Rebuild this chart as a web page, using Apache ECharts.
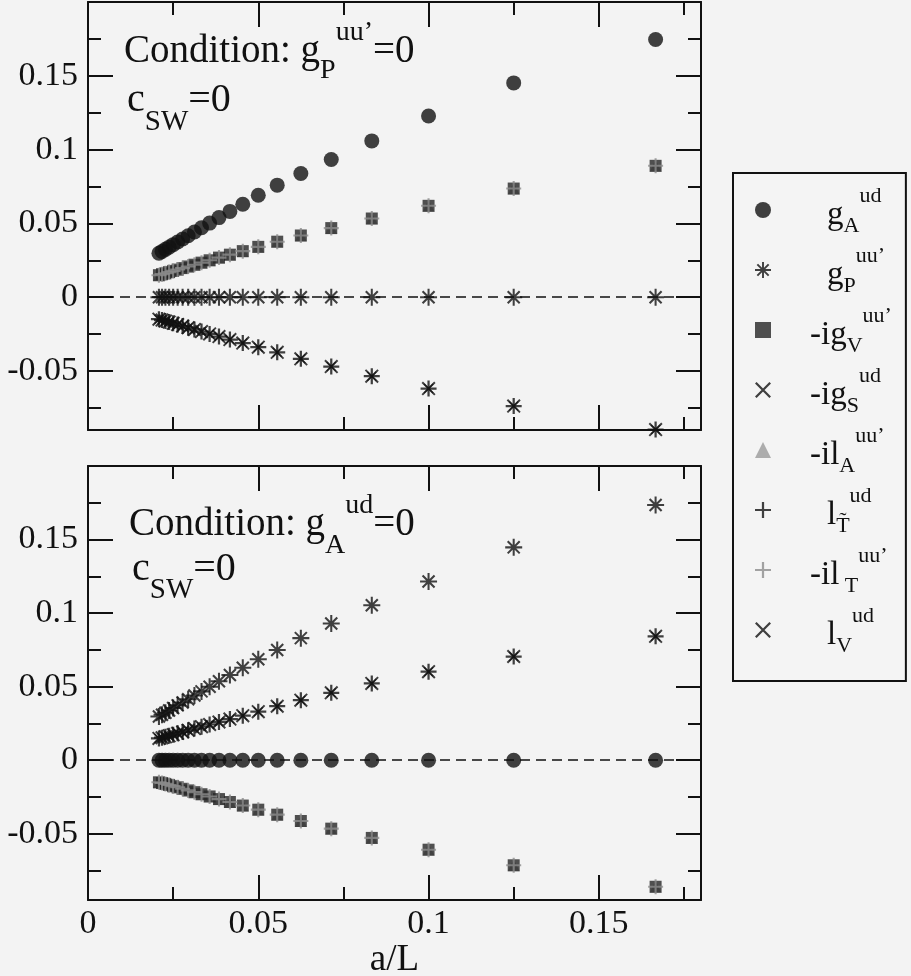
<!DOCTYPE html>
<html>
<head>
<meta charset="utf-8">
<script src="https://cdn.jsdelivr.net/npm/echarts@6/dist/echarts.min.js"></script>
<style>
html, body { margin: 0; padding: 0; background: #f3f3f3; }
#chart { width: 911px; height: 976px; }
</style>
</head>
<body>
<div id="chart"></div>
<script>
// a/L for L = 6, 8, ..., 48
var aL = [0.16667, 0.125, 0.1, 0.08333, 0.07143, 0.0625, 0.05556, 0.05, 0.04545, 0.04167, 0.03846,
	0.03571, 0.03333, 0.03125, 0.02941, 0.02778, 0.02632, 0.025, 0.02381, 0.02273, 0.02174, 0.02083];

// upper panel, condition g_P^uu' = 0
var top_gA = [0.1746, 0.1452, 0.1228, 0.1059, 0.0933, 0.0838, 0.0759, 0.0691, 0.0630, 0.0581, 0.0539,
	0.0502, 0.0470, 0.0442, 0.0416, 0.0394, 0.0374, 0.0356, 0.0339, 0.0324, 0.0310, 0.0298];
var top_zero = [0, 0, 0, 0, 0, 0, 0, 0, 0, 0, 0, 0, 0, 0, 0, 0, 0, 0, 0, 0, 0, 0];
var top_pos = [0.0890, 0.0736, 0.0619, 0.0533, 0.0468, 0.0418, 0.0376, 0.0341, 0.0312, 0.0288, 0.0268,
	0.0250, 0.0234, 0.0220, 0.0208, 0.0197, 0.0187, 0.0178, 0.0170, 0.0162, 0.0156, 0.0149];
var top_neg = [-0.0897, -0.0738, -0.0619, -0.0535, -0.0470, -0.0418, -0.0374, -0.0339, -0.0311, -0.0287, -0.0267,
	-0.0249, -0.0233, -0.0219, -0.0207, -0.0196, -0.0186, -0.0177, -0.0169, -0.0162, -0.0155, -0.0149];

// lower panel, condition g_A^ud = 0
var bot_zero = [0, 0, 0, 0, 0, 0, 0, 0, 0, 0, 0, 0, 0, 0, 0, 0, 0, 0, 0, 0, 0, 0];
var bot_gP = [0.1735, 0.1447, 0.1215, 0.1054, 0.0930, 0.0830, 0.0750, 0.0686, 0.0628, 0.0579, 0.0537,
	0.0500, 0.0468, 0.0440, 0.0415, 0.0393, 0.0373, 0.0355, 0.0338, 0.0323, 0.0309, 0.0297];
var bot_neg = [-0.0860, -0.0714, -0.0608, -0.0528, -0.0465, -0.0413, -0.0370, -0.0336, -0.0308, -0.0284, -0.0264,
	-0.0246, -0.0231, -0.0217, -0.0205, -0.0194, -0.0184, -0.0176, -0.0168, -0.0161, -0.0155, -0.0150];
var bot_pos = [0.0842, 0.0705, 0.0602, 0.0522, 0.0458, 0.0408, 0.0367, 0.0330, 0.0303, 0.0280, 0.0260,
	0.0243, 0.0228, 0.0215, 0.0203, 0.0192, 0.0183, 0.0174, 0.0166, 0.0159, 0.0153, 0.0148];

// legend labels: base, subscript, superscript
var names = ['g_A^ud', "g_P^uu'", "-ig_V^uu'", '-ig_S^ud', "-il_A^uu'", 'l_T~^ud', "-il_T^uu'", 'l_V^ud'];
var legBase = ['g', 'g', '-ig', '-ig', '-il', 'l', '-il', 'l'];
var legSub = ['A', 'P', 'V', 'S', 'A', 'T\u0303', ' T', 'V'];
var legSup = ['ud', 'uu\u2019', 'uu\u2019', 'ud', 'uu\u2019', 'ud', 'uu\u2019', 'ud'];

// series values per panel, same order as names
var panels = [
	[top_gA, top_zero, top_pos, top_neg, top_pos, top_neg, top_pos, top_neg],
	[bot_zero, bot_gP, bot_neg, bot_pos, bot_neg, bot_pos, bot_neg, bot_pos]
];

var FONT = 'Liberation Serif';
var STAR = 'path://M-0.6,-5L0.6,-5L0.6,5L-0.6,5Z M-5,-0.6L5,-0.6L5,0.6L-5,0.6Z M-3.96,-3.1L-3.1,-3.96L3.96,3.1L3.1,3.96Z M3.1,-3.96L3.96,-3.1L-3.1,3.96L-3.96,3.1Z';
var PLUS = 'path://M-0.7,-5L0.7,-5L0.7,-0.7L5,-0.7L5,0.7L0.7,0.7L0.7,5L-0.7,5L-0.7,0.7L-5,0.7L-5,-0.7L-0.7,-0.7Z';
var CROSS = 'path://M-5,-4L-4,-5L5,4L4,5Z M4,-5L5,-4L-4,5L-5,4Z';

var marks = [
	{ symbol: 'circle', size: 15, color: '#111', z: 3 },
	{ symbol: STAR, size: 17, color: '#111', z: 4 },
	{ symbol: 'rect', size: 12, color: '#262626', z: 3 },
	{ symbol: CROSS, size: 14, color: '#111', z: 4 },
	{ symbol: 'triangle', size: 12, color: '#9a9a9a', z: 2 },
	{ symbol: PLUS, size: 16, color: '#111', z: 4 },
	{ symbol: PLUS, size: 15, color: '#8c8c8c', z: 5 },
	{ symbol: CROSS, size: 10, color: '#111', z: 4 }
];

var series = [];
for (var p = 0; p < 2; p++) {
	for (var k = 0; k < names.length; k++) {
		var vals = panels[p][k];
		var s = {
			type: 'scatter',
			name: names[k],
			xAxisIndex: p * 2,
			yAxisIndex: p * 2,
			symbol: marks[k].symbol,
			symbolSize: marks[k].size,
			itemStyle: { color: marks[k].color },
			z: marks[k].z,
			silent: true,
			data: aL.map(function (x, i) { return [x, vals[i]]; })
		};
		if (k == 0) {
			s.markLine = {
				silent: true,
				symbol: 'none',
				label: { show: false },
				lineStyle: { color: '#111', width: 1.6, type: [10, 6] },
				data: [{ yAxis: 0 }]
			};
		}
		series.push(s);
	}
}

function fmt(v) {
	var r = Math.round(v / 0.05);
	if (Math.abs(v - r * 0.05) > 1e-6 || v > 0.16) return '';
	return String(+(r * 0.05).toFixed(2));
}

var tickStyle = { color: '#111', width: 2 };
function xAx(grid, pos, labels) {
	return {
		type: 'value', gridIndex: grid, position: pos,
		min: 0, max: 0.18, interval: 0.05,
		axisLine: { onZero: false, lineStyle: tickStyle },
		axisTick: { inside: true, length: 25, lineStyle: tickStyle },
		minorTick: { show: true, splitNumber: 2, length: 13, lineStyle: tickStyle },
		splitLine: { show: false },
		axisLabel: { show: labels, formatter: fmt, fontFamily: FONT, fontSize: 34, color: '#111', margin: 7 },
		name: labels ? 'a/L' : '',
		nameLocation: 'middle',
		nameGap: 39,
		nameTextStyle: { fontFamily: FONT, fontSize: 37, color: '#111' }
	};
}
function yAx(grid, pos, labels, ymin) {
	return {
		type: 'value', gridIndex: grid, position: pos,
		min: ymin, max: 0.2,
		axisLine: { onZero: false, lineStyle: tickStyle },
		axisTick: { inside: true, length: 25, lineStyle: tickStyle },
		minorTick: { show: true, splitNumber: 2, length: 13, lineStyle: tickStyle },
		splitLine: { show: false },
		axisLabel: { show: labels, formatter: fmt, fontFamily: FONT, fontSize: 34, color: '#111', margin: 10 }
	};
}

function condRich(mainSize, smallSize, subH, supH) {
	return {
		m: { fontFamily: FONT, fontSize: mainSize, fontWeight: 'normal', color: '#111', lineHeight: 60 },
		s: { fontFamily: FONT, fontSize: smallSize, fontWeight: 'normal', color: '#111', height: subH, lineHeight: 10, verticalAlign: 'bottom' },
		p: { fontFamily: FONT, fontSize: smallSize, fontWeight: 'normal', color: '#111', height: supH, lineHeight: 10, verticalAlign: 'top' }
	};
}

var myChart = echarts.init(document.getElementById('chart'));
var option = {
	backgroundColor: '#f3f3f3',
	animation: false,
	title: [
		{ text: '{m|Condition: g}{s|P}{p|uu\u2019}{m|=0}', left: 124, top: 22, padding: 0, textStyle: { fontWeight: 'normal', rich: condRich(39, 28, 23, 21) } },
		{ text: '{m|c}{s|SW}{m|=0}', left: 127, top: 70, padding: 0, textStyle: { fontWeight: 'normal', rich: condRich(40, 29, 16, 20) } },
		{ text: '{m|Condition: g}{s|A}{p|ud}{m|=0}', left: 129, top: 495, padding: 0, textStyle: { fontWeight: 'normal', rich: condRich(39, 28, 18, 21) } },
		{ text: '{m|c}{s|SW}{m|=0}', left: 132, top: 539, padding: 0, textStyle: { fontWeight: 'normal', rich: condRich(40, 29, 18, 20) } }
	],
	legend: {
		orient: 'vertical',
		left: 733,
		top: 173,
		data: names,
		selectedMode: false,
		itemWidth: 16,
		itemHeight: 16,
		itemGap: 8,
		padding: [12, 14, 24, 22],
		borderColor: '#111',
		borderWidth: 2,
		backgroundColor: '#f4f4f4',
		formatter: function (name) {
			var i = names.indexOf(name);
			var pad = legBase[i].charAt(0) == '-' ? 'a' : 'b';
			return '{' + pad + '| }{m|' + legBase[i] + '}{s|' + legSub[i] + '}{p|' + legSup[i] + '}';
		},
		textStyle: {
			width: 110,
			color: '#111',
			fontFamily: FONT,
			rich: {
				a: { width: 34, lineHeight: 44 },
				b: { width: 51, lineHeight: 44 },
				m: { fontFamily: FONT, fontSize: 33, color: '#111', height: 34, lineHeight: 10, verticalAlign: 'bottom' },
				s: { fontFamily: FONT, fontSize: 22, color: '#111', height: 12, lineHeight: 10, verticalAlign: 'bottom' },
				p: { fontFamily: FONT, fontSize: 22, color: '#111', height: 16, lineHeight: 10, verticalAlign: 'top' }
			}
		}
	},
	grid: [
		{ left: 88, top: 2, width: 613, height: 428, outerBoundsMode: 'none' },
		{ left: 88, top: 466, width: 613, height: 434, outerBoundsMode: 'none' }
	],
	xAxis: [xAx(0, 'bottom', false), xAx(0, 'top', false), xAx(1, 'bottom', true), xAx(1, 'top', false)],
	yAxis: [yAx(0, 'left', true, -0.09), yAx(0, 'right', false, -0.09), yAx(1, 'left', true, -0.095), yAx(1, 'right', false, -0.095)],
	series: series
};
myChart.setOption(option);
</script>
</body>
</html>
